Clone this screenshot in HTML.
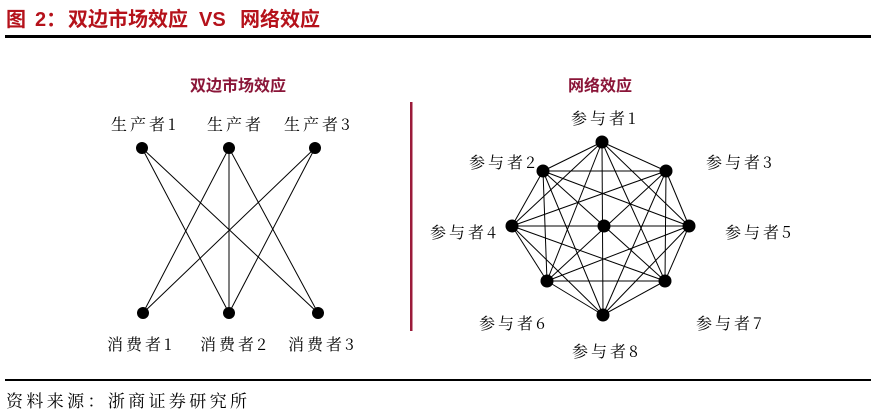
<!DOCTYPE html>
<html><head><meta charset="utf-8"><style>
html,body{margin:0;padding:0;background:#fff;width:876px;height:413px;overflow:hidden}
svg{display:block}
</style></head><body>
<svg width="876" height="413" viewBox="0 0 876 413" xmlns="http://www.w3.org/2000/svg">
<g font-family="Liberation Sans, Noto Sans CJK SC, sans-serif" font-weight="bold" font-size="20" fill="#b5121b">
<text x="6" y="26">图</text>
<text x="35" y="26">2：</text>
<text x="68" y="26">双边市场效应</text>
<text x="199" y="26">VS</text>
<text x="240" y="26">网络效应</text>
</g>
<rect x="5" y="35" width="866" height="3" fill="#000"/>
<text x="238" y="91" text-anchor="middle" font-family="Noto Sans CJK SC, sans-serif" font-weight="bold" font-size="16" fill="#8a1538">双边市场效应</text>
<text x="600" y="91" text-anchor="middle" font-family="Noto Sans CJK SC, sans-serif" font-weight="bold" font-size="16" fill="#8a1538">网络效应</text>
<rect x="410" y="102" width="2.5" height="229" fill="#9b1b3a"/>
<g stroke="#000" stroke-width="1">
<line x1="142" y1="148" x2="229" y2="313"/><line x1="142" y1="148" x2="318" y2="313"/>
<line x1="229" y1="148" x2="143" y2="313"/><line x1="229" y1="148" x2="229" y2="313"/><line x1="229" y1="148" x2="318" y2="313"/>
<line x1="315" y1="148" x2="143" y2="313"/><line x1="315" y1="148" x2="229" y2="313"/>
</g>
<g fill="#000">
<circle cx="142" cy="148" r="6"/><circle cx="229" cy="148" r="6"/><circle cx="315" cy="148" r="6"/>
<circle cx="143" cy="313" r="6"/><circle cx="229" cy="313" r="6"/><circle cx="318" cy="313" r="6"/>
</g>
<g font-family="Noto Serif CJK SC, serif" font-size="16" fill="#000" letter-spacing="3">
<text x="111" y="130">生产者1</text><text x="207" y="130">生产者</text><text x="284" y="130">生产者3</text>
<text x="107" y="350">消费者1</text><text x="200" y="350">消费者2</text><text x="288" y="350">消费者3</text>
<text x="571" y="124">参与者1</text>
<text x="469" y="168">参与者2</text>
<text x="706" y="168">参与者3</text>
<text x="430" y="238">参与者4</text>
<text x="725" y="238">参与者5</text>
<text x="479" y="329">参与者6</text>
<text x="696" y="329">参与者7</text>
<text x="572" y="357">参与者8</text>
</g>
<g stroke="#000" stroke-width="1">
<line x1="602" y1="142" x2="543" y2="171"/><line x1="602" y1="142" x2="666" y2="171"/><line x1="602" y1="142" x2="512" y2="226"/><line x1="602" y1="142" x2="689" y2="226"/><line x1="602" y1="142" x2="547" y2="281"/><line x1="602" y1="142" x2="665" y2="281"/><line x1="602" y1="142" x2="603" y2="315"/>
<line x1="543" y1="171" x2="666" y2="171"/><line x1="543" y1="171" x2="512" y2="226"/><line x1="543" y1="171" x2="689" y2="226"/><line x1="543" y1="171" x2="547" y2="281"/><line x1="543" y1="171" x2="665" y2="281"/><line x1="543" y1="171" x2="603" y2="315"/>
<line x1="666" y1="171" x2="512" y2="226"/><line x1="666" y1="171" x2="689" y2="226"/><line x1="666" y1="171" x2="547" y2="281"/><line x1="666" y1="171" x2="665" y2="281"/><line x1="666" y1="171" x2="603" y2="315"/>
<line x1="512" y1="226" x2="689" y2="226"/><line x1="512" y1="226" x2="547" y2="281"/><line x1="512" y1="226" x2="665" y2="281"/><line x1="512" y1="226" x2="603" y2="315"/>
<line x1="689" y1="226" x2="547" y2="281"/><line x1="689" y1="226" x2="665" y2="281"/><line x1="689" y1="226" x2="603" y2="315"/>
<line x1="547" y1="281" x2="665" y2="281"/><line x1="547" y1="281" x2="603" y2="315"/>
<line x1="665" y1="281" x2="603" y2="315"/>
</g>
<g fill="#000">
<circle cx="602" cy="142" r="6.5"/><circle cx="543" cy="171" r="6.5"/><circle cx="666" cy="171" r="6.5"/>
<circle cx="512" cy="226" r="6.5"/><circle cx="604" cy="226" r="6.5"/><circle cx="689" cy="226" r="6.5"/>
<circle cx="547" cy="281" r="6.5"/><circle cx="665" cy="281" r="6.5"/><circle cx="603" cy="315" r="6.5"/>
</g>
<rect x="5" y="379" width="866" height="2" fill="#000"/>
<text x="6" y="407" font-family="Noto Serif CJK SC, serif" font-size="17" fill="#000" textLength="241" lengthAdjust="spacing">资料来源：浙商证券研究所</text>
</svg>
</body></html>
